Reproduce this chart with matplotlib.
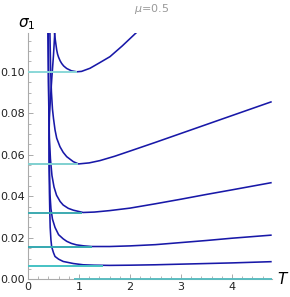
import matplotlib
matplotlib.use("Agg")
import matplotlib.pyplot as plt
from matplotlib.ticker import MultipleLocator, FormatStrFormatter

# ---- data ----
# curve A (level 0.100)
TA = [0.52, 0.535, 0.55, 0.563, 0.58, 0.6, 0.63, 0.661, 0.7, 0.759, 0.85, 0.955, 1.05, 1.216, 1.4, 1.608, 1.85, 2.13]
SA = [0.1187, 0.1155, 0.1128, 0.1105, 0.1085, 0.107, 0.1053, 0.104, 0.1028, 0.1016, 0.1005, 0.1000, 0.1002, 0.1017, 0.1043, 0.1073, 0.1125, 0.119]
# curve B (level 0.0556)
TB = [0.43, 0.445, 0.46, 0.48, 0.5, 0.53, 0.563, 0.627, 0.69, 0.759, 0.888, 0.99, 1.2, 1.41, 1.7, 2.0, 2.5, 3.0, 3.5, 4.0, 4.78]
SB = [0.1187, 0.1, 0.09, 0.082, 0.0775, 0.072, 0.068, 0.0639, 0.0612, 0.0591, 0.0567, 0.0556, 0.0561, 0.0572, 0.0593, 0.0618, 0.066, 0.0703, 0.0746, 0.0789, 0.0856]
# curve C (level 0.0321)
TC = [0.39, 0.40, 0.41, 0.42, 0.44, 0.47, 0.51, 0.56, 0.63, 0.69, 0.79, 0.89, 1.08, 1.3, 1.6, 2.0, 2.5, 3.0, 3.5, 4.0, 4.78]
SC = [0.1187, 0.095, 0.08, 0.068, 0.058, 0.05, 0.0445, 0.0405, 0.0375, 0.0358, 0.0342, 0.0333, 0.0322, 0.0324, 0.0331, 0.0343, 0.0364, 0.0386, 0.0409, 0.0431, 0.0466]
# curve D (level 0.0156)
TD = [0.40, 0.41, 0.42, 0.431, 0.45, 0.48, 0.53, 0.6, 0.69, 0.76, 0.85, 0.95, 1.1, 1.25, 1.6, 2.0, 2.5, 3.0, 3.5, 4.0, 4.78]
SD = [0.1187, 0.08, 0.055, 0.041, 0.034, 0.029, 0.025, 0.0215, 0.0195, 0.0183, 0.0173, 0.0166, 0.0161, 0.0158, 0.0158, 0.0161, 0.0167, 0.0177, 0.0187, 0.0198, 0.0213]
# curve E (level 0.0064)
TE = [0.525, 0.5, 0.47, 0.44, 0.42, 0.412, 0.413, 0.42, 0.428, 0.435, 0.45, 0.464, 0.5, 0.53, 0.6, 0.69, 0.89, 1.08, 1.3, 1.6, 2.0, 2.5, 3.0, 3.5, 4.0, 4.78]
SE = [0.1187, 0.108, 0.098, 0.087, 0.078, 0.068, 0.055, 0.042, 0.032, 0.025, 0.019, 0.0157, 0.0128, 0.011, 0.0097, 0.0086, 0.0076, 0.0070, 0.0068, 0.0067, 0.0068, 0.0070, 0.0073, 0.0076, 0.0079, 0.0085]

curves_T = [TA, TB, TC, TD, TE]
curves_S = [SA, SB, SC, SD, SE]

# cyan level lines: level, start T, end T
levels = [0.100, 0.0556, 0.0321, 0.0156, 0.0064, 0.0]
lev_start = [0.0, 0.0, 0.0, 0.0, 0.0, 0.9]
lev_end = [0.955, 0.986, 1.053, 1.25, 1.465, 4.78]
lev_colors = ['#8ad8d8', '#7fd0d0', '#3caab0', '#34a8b0', '#45c2c4', '#5bbcc0']

xticks = [0, 1, 2, 3, 4]
yticks = [0.00, 0.02, 0.04, 0.06, 0.08, 0.10]

# ---- figure ----
W, H = 290, 297
fig = plt.figure(figsize=(W / 100, H / 100), dpi=100)
x0, x1, y0, y1 = 28, 271.7, 279.3, 33
ax = fig.add_axes([x0 / W, (H - y0) / H, (x1 - x0) / W, (y0 - y1) / H])
ax.set_xlim(0, 4.78)
ax.set_ylim(0, 0.1187)

blue = '#1818a8'
for T, S in zip(curves_T, curves_S):
    ax.plot(T, S, color=blue, lw=1.15, solid_capstyle='butt',
            solid_joinstyle='round', zorder=3)

for lv, a, b, c in zip(levels, lev_start, lev_end, lev_colors):
    ax.plot([a, b], [lv, lv], color=c, lw=1.4, zorder=4,
            clip_on=False, solid_capstyle='butt')

for s in ['top', 'right']:
    ax.spines[s].set_visible(False)
for s in ['left', 'bottom']:
    ax.spines[s].set_color('#aaaaaa')
    ax.spines[s].set_linewidth(0.8)

ax.set_xticks(xticks)
ax.set_yticks(yticks)
ax.yaxis.set_major_formatter(FormatStrFormatter('%.2f'))
ax.xaxis.set_minor_locator(MultipleLocator(0.2))
ax.yaxis.set_minor_locator(MultipleLocator(0.005))
ax.tick_params(which='both', direction='in', color='#aaaaaa', labelsize=8,
               labelcolor='#222222', pad=2)
ax.tick_params(which='major', length=3.5, width=0.7)
ax.tick_params(which='minor', length=2, width=0.6)

fig.text(27 / W, 1 - 24 / H, r'$\sigma_1$', fontsize=11, ha='center', va='center')
fig.text(283 / W, 1 - 279 / H, r'$T$', fontsize=11, ha='center', va='center')
fig.text(152 / W, 1 - 9 / H, r'$\mu$=0.5', fontsize=8, color='#999999',
         ha='center', va='center')

fig.savefig('out.png', dpi=100)
